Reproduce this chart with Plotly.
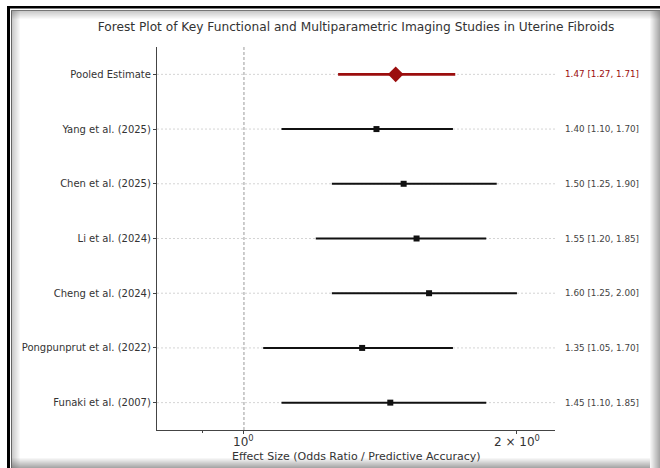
import math
import plotly.graph_objects as go

studies = ["Pooled Estimate", "Yang et al. (2025)", "Chen et al. (2025)", "Li et al. (2024)",
           "Cheng et al. (2024)", "Pongpunprut et al. (2022)", "Funaki et al. (2007)"]
estimates = [1.47, 1.40, 1.50, 1.55, 1.60, 1.35, 1.45]
ci_low = [1.27, 1.10, 1.25, 1.20, 1.25, 1.05, 1.10]
ci_high = [1.71, 1.70, 1.90, 1.85, 2.00, 1.70, 1.85]
x_tickvals = [1, 2]
x_ticktext = ["10<sup>0</sup>", "2 × 10<sup>0</sup>"]
x_minor_ticks = [0.9]

W, H = 660, 468
L, R, T, B = 157, 555, 47, 430
pw, ph = R - L, B - T

def px(x):
    return (x - L) / pw

def py(y):
    return (B - y) / ph

FONT = "DejaVu Sans"
RED = "#9b0d0d"

fig = go.Figure()
ys = list(range(len(studies)))

# horizontal dotted guides
for i in ys:
    fig.add_shape(type="line", xref="paper", yref="y", x0=0, x1=1, y0=i, y1=i,
                  line=dict(color="#d4d4d4", width=1, dash="2px,2px"), layer="below")

# reference line at 1
fig.add_shape(type="line", xref="x", yref="paper", x0=1, x1=1, y0=0, y1=1,
              line=dict(color="#9a9a9a", width=1, dash="3px,2px"), layer="below")

for i, (s, e, lo, hi) in enumerate(zip(studies, estimates, ci_low, ci_high)):
    pooled = (i == 0)
    col = RED if pooled else "#111111"
    fig.add_trace(go.Scatter(x=[lo, hi], y=[i, i], mode="lines",
                             line=dict(color=col, width=2.6 if pooled else 2),
                             showlegend=False, hoverinfo="skip"))
    fig.add_trace(go.Scatter(x=[e], y=[i], mode="markers",
                             marker=dict(symbol="diamond" if pooled else "square",
                                         size=12 if pooled else 6, color=col,
                                         line=dict(width=0)),
                             showlegend=False))
    fig.add_annotation(xref="paper", yref="y", x=px(563), y=i, xanchor="left",
                       yanchor="middle", showarrow=False,
                       text=f"{e:.2f} [{lo:.2f}, {hi:.2f}]",
                       font=dict(family=FONT, size=8.8, color=RED if pooled else "#444444"))

# x tick labels (log axis: annotation x in log10 units)
for v, t in zip(x_tickvals, x_ticktext):
    fig.add_annotation(xref="x", yref="paper", x=math.log10(v), y=py(441), xanchor="center",
                       yanchor="middle", showarrow=False, text=t,
                       font=dict(family=FONT, size=12, color="#333333"))

# x-axis title
fig.add_annotation(xref="paper", yref="paper", x=px(356), y=py(456), xanchor="center",
                   yanchor="middle", showarrow=False,
                   text="Effect Size (Odds Ratio / Predictive Accuracy)",
                   font=dict(family=FONT, size=11, color="#333333"))

# frame decorations
shapes = []
shapes.append(dict(type="rect", xref="paper", yref="paper", x0=px(7), x1=px(10), y0=py(468), y1=py(6),
                   fillcolor="#000000", line=dict(width=0)))
shapes.append(dict(type="rect", xref="paper", yref="paper", x0=px(7), x1=px(660), y0=py(8.5), y1=py(6),
                   fillcolor="#000000", line=dict(width=0)))
shapes.append(dict(type="rect", xref="paper", yref="paper", x0=px(11), x1=px(12), y0=py(468), y1=py(10),
                   fillcolor="#666666", line=dict(width=0)))
shapes.append(dict(type="rect", xref="paper", yref="paper", x0=px(11), x1=px(660), y0=py(11), y1=py(10),
                   fillcolor="#777777", line=dict(width=0)))
for k in range(8):
    a = 0.2 * (1 - k / 8)
    shapes.append(dict(type="rect", xref="paper", yref="paper", x0=px(12 + k), x1=px(13 + k),
                       y0=py(468), y1=py(11), fillcolor=f"rgba(0,0,0,{a:.3f})", line=dict(width=0)))
    shapes.append(dict(type="rect", xref="paper", yref="paper", x0=px(12), x1=px(660),
                       y0=py(12 + k), y1=py(11 + k), fillcolor=f"rgba(0,0,0,{a:.3f})", line=dict(width=0)))
for k in range(10):
    a = 0.05 + 0.05 * k
    shapes.append(dict(type="rect", xref="paper", yref="paper", x0=px(650 + k), x1=px(651 + k),
                       y0=py(468), y1=py(11), fillcolor=f"rgba(80,80,80,{a:.3f})", line=dict(width=0)))
    shapes.append(dict(type="rect", xref="paper", yref="paper", x0=px(12), x1=px(650),
                       y0=py(459 + k), y1=py(458 + k), fillcolor=f"rgba(80,80,80,{a:.3f})", line=dict(width=0)))
for s in shapes:
    fig.add_shape(**s, layer="above")

fig.update_layout(
    width=W, height=H,
    margin=dict(l=L, r=W - R, t=T, b=H - B, pad=0, autoexpand=False),
    paper_bgcolor="white", plot_bgcolor="white",
    title=dict(text="Forest Plot of Key Functional and Multiparametric Imaging Studies in Uterine Fibroids",
               x=px(356), xref="paper", xanchor="center", y=1 - 27 / H, yanchor="middle",
               font=dict(family=FONT, size=12.2, color="#333333")),
    xaxis=dict(type="log", range=[-0.0959, 0.343], tickvals=x_tickvals, showticklabels=False,
               automargin=False,
               showgrid=False, zeroline=False, showline=True, linecolor="#444444", linewidth=1.2,
               ticks="outside", ticklen=3, tickcolor="#444444",
               minor=dict(tickvals=x_minor_ticks, ticks="outside", ticklen=2, tickcolor="#444444",
                          showgrid=False)),
    yaxis=dict(range=[6.5, -0.5], tickvals=ys, ticktext=studies, automargin=False,
               showgrid=False, zeroline=False, showline=True, linecolor="#444444", linewidth=1.2,
               ticks="outside", ticklen=3, tickcolor="#444444",
               tickfont=dict(family=FONT, size=10, color="#333333")),
)

fig.write_html("out.html", config={"displayModeBar": False})
with open("out.html", "r", encoding="utf-8") as f:
    html = f.read()
html = html.replace("<head>", "<head><style>html,body{margin:0;padding:0;overflow:hidden}</style>", 1)
with open("out.html", "w", encoding="utf-8") as f:
    f.write(html)
